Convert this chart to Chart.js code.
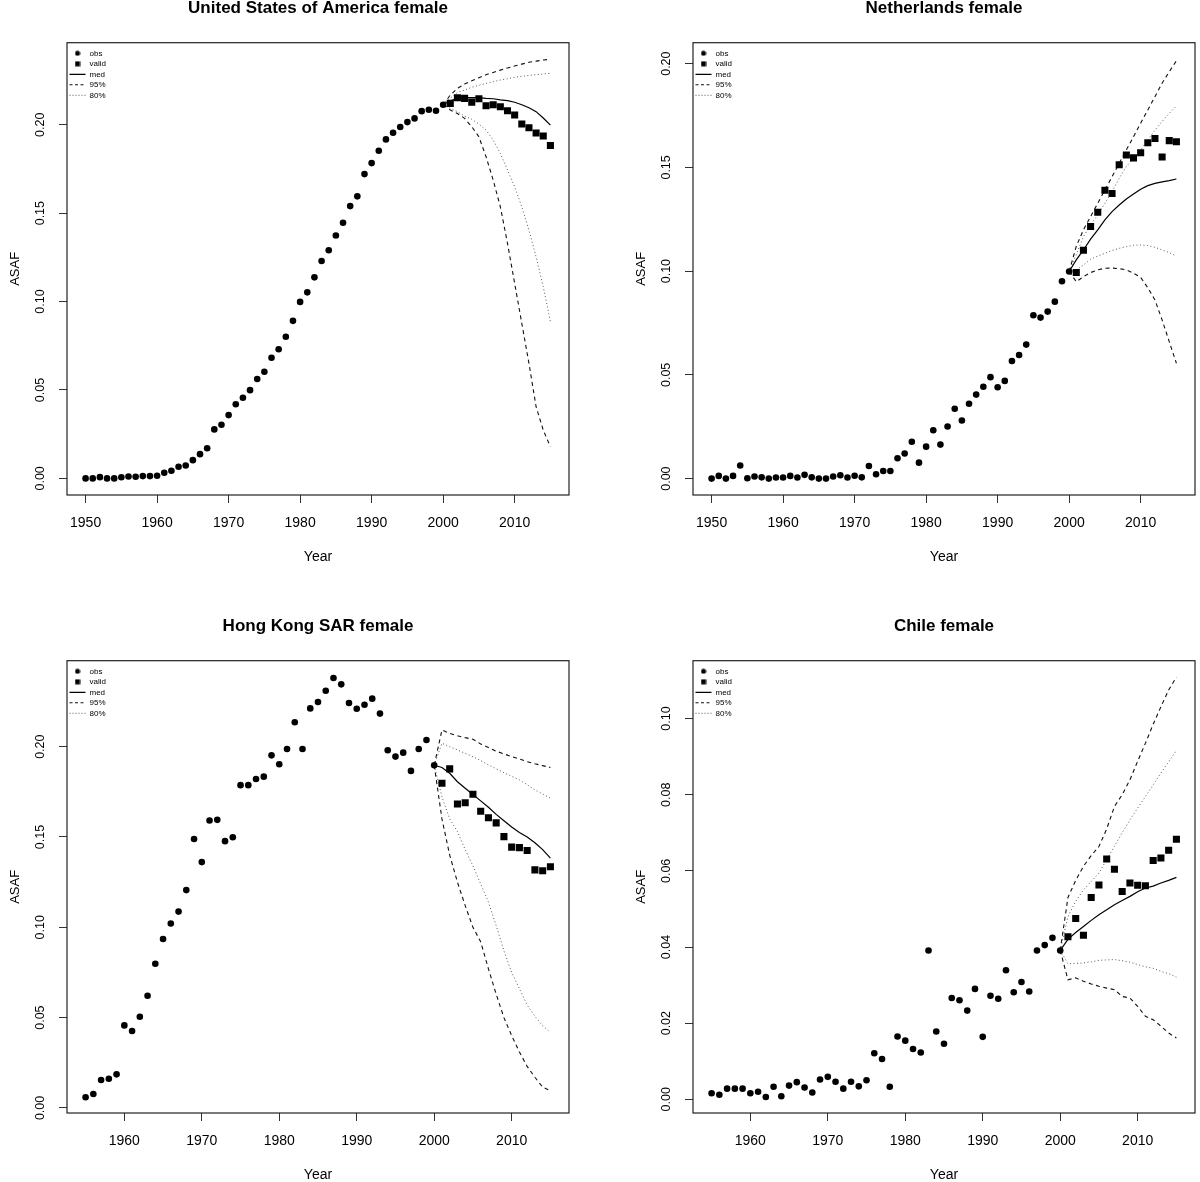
<!DOCTYPE html>
<html>
<head>
<meta charset="utf-8">
<title>ASAF female projections</title>
<script src="https://cdn.jsdelivr.net/npm/chart.js@4.4.1/dist/chart.umd.min.js"></script>
<style>
  html, body { margin: 0; padding: 0; background: #fff; }
  #page { position: relative; width: 1200px; height: 1182px; overflow: hidden; }
  canvas { position: absolute; }
</style>
</head>
<body>
<div id="page">
  <canvas id="usa" width="574" height="564" style="left:0px;top:0px"></canvas>
  <canvas id="nld" width="574" height="564" style="left:626px;top:0px"></canvas>
  <canvas id="hkg" width="574" height="564" style="left:0px;top:618px"></canvas>
  <canvas id="chl" width="574" height="564" style="left:626px;top:618px"></canvas>
</div>
<script>
// years: observed series start in 1950 (USA, NL) or 1955 (HK, Chile),
// validation runs 2001-2015, projection bands 2000-2015
const obsStartEarly = 1950;
const obsStartLate = 1955;
const validStart = 2001;
const projStart = 2000;

const legendLabels = ['obs', 'valid', 'med', '95%', '80%'];

// United States of America
const usaObs = [
  0.0000, 0.0000, 0.0007, 0.0000, 0.0000, 0.0006, 0.0011, 0.0009, 0.0013, 0.0013,
  0.0015, 0.0032, 0.0043, 0.0066, 0.0073, 0.0103, 0.0137, 0.0170, 0.0277, 0.0303,
  0.0358, 0.0419, 0.0456, 0.0499, 0.0562, 0.0603, 0.0682, 0.0730, 0.0801, 0.0891,
  0.0998, 0.1052, 0.1137, 0.1229, 0.1290, 0.1374, 0.1446, 0.1540, 0.1595, 0.1721,
  0.1783, 0.1853, 0.1917, 0.1955, 0.1987, 0.2015, 0.2036, 0.2077, 0.2085, 0.2079,
  0.2113
];
const usaValid = [0.2121, 0.2153, 0.2149, 0.2128, 0.2147, 0.2107, 0.2113, 0.2102, 0.2079, 0.2055, 0.2004, 0.1983, 0.1953, 0.1936, 0.1883];
const usaMed  = [0.2113, 0.2136, 0.2149, 0.2153, 0.2153, 0.2153, 0.2149, 0.2147, 0.2141, 0.2136, 0.2127, 0.2113, 0.2096, 0.2074, 0.2038, 0.1998];
const usaUp95 = [0.2113, 0.2168, 0.2206, 0.2230, 0.2249, 0.2266, 0.2283, 0.2296, 0.2309, 0.2321, 0.2332, 0.2343, 0.2353, 0.2360, 0.2366, 0.2370];
const usaUp80 = [0.2113, 0.2150, 0.2183, 0.2196, 0.2212, 0.2223, 0.2234, 0.2243, 0.2253, 0.2260, 0.2268, 0.2274, 0.2279, 0.2283, 0.2287, 0.2291];
const usaLo80 = [0.2113, 0.2093, 0.2074, 0.2049, 0.2031, 0.2004, 0.1970, 0.1913, 0.1838, 0.1744, 0.1649, 0.1536, 0.1404, 0.1253, 0.1084, 0.0886];
const usaLo95 = [0.2113, 0.2083, 0.2064, 0.2036, 0.1989, 0.1932, 0.1819, 0.1687, 0.1536, 0.1329, 0.1103, 0.0877, 0.0650, 0.0405, 0.0273, 0.0179];

// Netherlands
const nldObs = [
  0.0000, 0.0013, 0.0000, 0.0013, 0.0063, 0.0002, 0.0010, 0.0006, 0.0000, 0.0005,
  0.0005, 0.0013, 0.0005, 0.0018, 0.0006, 0.0000, 0.0000, 0.0010, 0.0016, 0.0005,
  0.0014, 0.0006, 0.0061, 0.0021, 0.0037, 0.0037, 0.0098, 0.0121, 0.0178, 0.0077,
  0.0154, 0.0233, 0.0164, 0.0251, 0.0337, 0.0280, 0.0361, 0.0405, 0.0443, 0.0489,
  0.0440, 0.0471, 0.0567, 0.0596, 0.0646, 0.0787, 0.0776, 0.0805, 0.0853, 0.0951,
  0.0998
];
const nldValid = [0.0993, 0.1101, 0.1215, 0.1284, 0.1390, 0.1374, 0.1513, 0.1560, 0.1546, 0.1571, 0.1619, 0.1639, 0.1550, 0.1629, 0.1624];
const nldMed  = [0.0998, 0.1054, 0.1102, 0.1154, 0.1199, 0.1247, 0.1287, 0.1319, 0.1348, 0.1372, 0.1395, 0.1412, 0.1423, 0.1430, 0.1436, 0.1444];
const nldUp95 = [0.0998, 0.1120, 0.1199, 0.1263, 0.1327, 0.1391, 0.1455, 0.1520, 0.1584, 0.1648, 0.1713, 0.1777, 0.1841, 0.1906, 0.1961, 0.2014];
const nldUp80 = [0.0998, 0.1080, 0.1166, 0.1223, 0.1271, 0.1327, 0.1383, 0.1448, 0.1504, 0.1544, 0.1584, 0.1632, 0.1680, 0.1721, 0.1761, 0.1796];
const nldLo80 = [0.0998, 0.1005, 0.1030, 0.1057, 0.1073, 0.1086, 0.1099, 0.1110, 0.1118, 0.1125, 0.1126, 0.1123, 0.1115, 0.1102, 0.1089, 0.1073];
const nldLo95 = [0.0998, 0.0949, 0.0973, 0.0993, 0.1006, 0.1014, 0.1015, 0.1012, 0.1006, 0.0990, 0.0970, 0.0920, 0.0861, 0.0765, 0.0660, 0.0556];

// Hong Kong SAR
const hkgObs = [
  0.0059, 0.0077, 0.0155, 0.0162, 0.0186,
  0.0457, 0.0426, 0.0505, 0.0621, 0.0798, 0.0935, 0.1021, 0.1087, 0.1206, 0.1489,
  0.1361, 0.1591, 0.1595, 0.1477, 0.1499, 0.1787, 0.1787, 0.1821, 0.1834, 0.1952,
  0.1903, 0.1987, 0.2135, 0.1987, 0.2212, 0.2247, 0.2310, 0.2380, 0.2345, 0.2242,
  0.2210, 0.2232, 0.2266, 0.2183, 0.1980, 0.1945, 0.1967, 0.1866, 0.1987, 0.2037,
  0.1897
];
const hkgValid = [0.1798, 0.1877, 0.1683, 0.1690, 0.1737, 0.1643, 0.1607, 0.1578, 0.1502, 0.1444, 0.1441, 0.1425, 0.1318, 0.1313, 0.1335];
const hkgMed  = [0.1897, 0.1885, 0.1853, 0.1806, 0.1770, 0.1735, 0.1700, 0.1665, 0.1625, 0.1590, 0.1555, 0.1525, 0.1500, 0.1468, 0.1430, 0.1383];
const hkgUp95 = [0.1897, 0.2092, 0.2074, 0.2060, 0.2050, 0.2041, 0.2015, 0.1995, 0.1975, 0.1960, 0.1945, 0.1932, 0.1917, 0.1905, 0.1895, 0.1885];
const hkgUp80 = [0.1897, 0.2019, 0.2000, 0.1982, 0.1963, 0.1945, 0.1922, 0.1899, 0.1878, 0.1856, 0.1836, 0.1816, 0.1790, 0.1761, 0.1738, 0.1715];
const hkgLo80 = [0.1897, 0.1723, 0.1600, 0.1530, 0.1430, 0.1340, 0.1240, 0.1140, 0.1010, 0.0870, 0.0750, 0.0660, 0.0570, 0.0507, 0.0455, 0.0418];
const hkgLo95 = [0.1897, 0.1600, 0.1400, 0.1250, 0.1120, 0.1000, 0.0920, 0.0770, 0.0630, 0.0500, 0.0400, 0.0310, 0.0230, 0.0170, 0.0115, 0.0095];

// Chile
const chlObs = [
  0.0016, 0.0012, 0.0028, 0.0028, 0.0028,
  0.0016, 0.0020, 0.0006, 0.0033, 0.0008, 0.0036, 0.0045, 0.0031, 0.0018, 0.0052,
  0.0059, 0.0046, 0.0028, 0.0046, 0.0034, 0.0050, 0.0121, 0.0106, 0.0033, 0.0165,
  0.0154, 0.0132, 0.0123, 0.0391, 0.0178, 0.0146, 0.0266, 0.0260, 0.0233, 0.0290,
  0.0164, 0.0272, 0.0264, 0.0339, 0.0281, 0.0308, 0.0283, 0.0391, 0.0405, 0.0424,
  0.0391
];
const chlValid = [0.0427, 0.0475, 0.0431, 0.0530, 0.0563, 0.0631, 0.0604, 0.0546, 0.0568, 0.0562, 0.0561, 0.0627, 0.0634, 0.0654, 0.0683];
const chlMed  = [0.0391, 0.0420, 0.0438, 0.0454, 0.0470, 0.0485, 0.0498, 0.0511, 0.0522, 0.0533, 0.0545, 0.0555, 0.0560, 0.0568, 0.0575, 0.0583];
const chlUp95 = [0.0391, 0.0530, 0.0575, 0.0612, 0.0640, 0.0664, 0.0710, 0.0769, 0.0800, 0.0839, 0.0888, 0.0935, 0.0985, 0.1031, 0.1075, 0.1109];
const chlUp80 = [0.0391, 0.0480, 0.0520, 0.0550, 0.0572, 0.0594, 0.0630, 0.0664, 0.0700, 0.0734, 0.0765, 0.0795, 0.0826, 0.0857, 0.0887, 0.0916];
const chlLo80 = [0.0391, 0.0356, 0.0357, 0.0358, 0.0361, 0.0365, 0.0366, 0.0367, 0.0364, 0.0360, 0.0354, 0.0348, 0.0344, 0.0336, 0.0330, 0.0321];
const chlLo95 = [0.0391, 0.0314, 0.0319, 0.0310, 0.0303, 0.0297, 0.0292, 0.0288, 0.0270, 0.0266, 0.0244, 0.0218, 0.0209, 0.0192, 0.0174, 0.0161];

// tick labels
const yearTicksEarly = [1950, 1960, 1970, 1980, 1990, 2000, 2010];
const yearTicksLate = [1960, 1970, 1980, 1990, 2000, 2010];
const asafTicks = [0.00, 0.05, 0.10, 0.15, 0.20];
const chileTicks = [0.00, 0.02, 0.04, 0.06, 0.08, 0.10];

Chart.defaults.font.family = '"Liberation Sans", Arial, Helvetica, sans-serif';
Chart.defaults.color = '#000';

const toPoints = (start, vals) => vals.map((v, i) => ({ x: start + i, y: v }));

// small legend symbols
function legendIcon(kind) {
    const c = document.createElement('canvas');
    c.width = 6;
    c.height = 6;
    const g = c.getContext('2d');
    g.fillStyle = '#000';
    if (kind === 'circle') {
        g.beginPath();
        g.arc(3, 3, 2.5, 0, Math.PI * 2);
        g.fill();
    } else {
        g.fillRect(0.5, 0.5, 5, 5);
    }
    return c;
}
const obsIcon = legendIcon('circle');
const validIcon = legendIcon('square');

const solid = [];
const dashed = [4, 3.5];
const dotted = [1, 2.5];

// box round the plot area, like R's bty="o"
const framePlugin = {
    id: 'frame',
    beforeDatasetsDraw(chart) {
        const { ctx, chartArea: a } = chart;
        ctx.save();
        ctx.strokeStyle = '#222';
        ctx.lineWidth = 1.2;
        ctx.strokeRect(a.left, a.top, a.right - a.left, a.bottom - a.top);
        ctx.restore();
    }
};

function makePanel(id, p) {
    const lineSet = (label, vals, dash, color, width) => ({
        label: label,
        data: toPoints(projStart, vals),
        showLine: true,
        borderColor: color,
        borderWidth: width,
        borderDash: dash,
        pointRadius: 0,
        tension: 0,
        fill: false
    });

    const datasets = [
        {
            label: legendLabels[0],
            data: toPoints(p.obsStart, p.obs),
            pointStyle: 'circle',
            pointRadius: 3.3,
            backgroundColor: '#000',
            borderWidth: 0
        },
        {
            label: legendLabels[1],
            data: toPoints(validStart, p.valid),
            pointStyle: 'rect',
            pointRadius: 5,
            backgroundColor: '#000',
            borderWidth: 0
        },
        lineSet(legendLabels[2], p.med, solid, '#000', 1.2),
        lineSet(legendLabels[3], p.up95, dashed, '#111', 1.1),
        lineSet('lower 95%', p.lo95, dashed, '#111', 1.1),
        lineSet(legendLabels[4], p.up80, dotted, '#555', 1),
        lineSet('lower 80%', p.lo80, dotted, '#555', 1)
    ];

    return new Chart(document.getElementById(id), {
        type: 'scatter',
        data: { datasets: datasets },
        plugins: [framePlugin],
        options: {
            responsive: false,
            animation: false,
            devicePixelRatio: 1,
            layout: { padding: { left: 0, right: 1, top: 0, bottom: 0 } },
            scales: {
                x: {
                    type: 'linear',
                    min: p.xMin,
                    max: p.xMax,
                    afterBuildTicks: axis => { axis.ticks = p.xTicks.map(v => ({ value: v })); },
                    afterFit: axis => { axis.height = 69; },
                    border: { display: false },
                    grid: { drawOnChartArea: false, drawTicks: true, tickLength: 8, tickColor: '#333', tickWidth: 1 },
                    ticks: {
                        font: { size: 14 },
                        padding: 11.4,
                        maxRotation: 0,
                        autoSkip: false,
                        callback: v => String(v)
                    },
                    title: { display: true, text: 'Year', font: { size: 14, lineHeight: 1 }, padding: 0 }
                },
                y: {
                    type: 'linear',
                    min: p.yMin,
                    max: p.yMax,
                    afterBuildTicks: axis => { axis.ticks = p.yTicks.map(v => ({ value: v })); },
                    afterFit: axis => { axis.width = 67; },
                    border: { display: false },
                    grid: { drawOnChartArea: false, drawTicks: true, tickLength: 8, tickColor: '#333', tickWidth: 1 },
                    ticks: {
                        font: { size: 12.5 },
                        minRotation: 90,
                        maxRotation: 90,
                        crossAlign: 'center',
                        padding: 6,
                        autoSkip: false,
                        callback: v => Number(v).toFixed(2)
                    },
                    title: { display: true, text: 'ASAF', font: { size: 13, lineHeight: 1 }, padding: { top: 8.5, bottom: 0 } }
                }
            },
            plugins: {
                title: {
                    display: true,
                    text: p.title,
                    fullSize: false,
                    color: '#000',
                    font: { size: 17, weight: 'bold', lineHeight: 1 },
                    padding: { top: 0, bottom: 25.7 }
                },
                legend: {
                    position: 'chartArea',
                    align: 'start',
                    // the chartArea legend is measured from the canvas top, so push it below the title
                    title: { display: true, text: ' ', font: { size: 1 }, padding: { top: 45.6, bottom: 0 } },
                    labels: {
                        font: { size: 8 },
                        color: '#000',
                        padding: 2.5,
                        usePointStyle: true,
                        pointStyleWidth: 16,
                        generateLabels: () => [
                            { text: legendLabels[0], pointStyle: obsIcon, fillStyle: '#000', strokeStyle: '#000', lineWidth: 0, fontColor: '#000' },
                            { text: legendLabels[1], pointStyle: validIcon, fillStyle: '#000', strokeStyle: '#000', lineWidth: 0, fontColor: '#000' },
                            { text: legendLabels[2], pointStyle: 'line', strokeStyle: '#000', lineWidth: 1.2, lineDash: solid, fontColor: '#000' },
                            { text: legendLabels[3], pointStyle: 'line', strokeStyle: '#111', lineWidth: 1.1, lineDash: [3, 2.5], fontColor: '#000' },
                            { text: legendLabels[4], pointStyle: 'line', strokeStyle: '#555', lineWidth: 1, lineDash: [1, 2], fontColor: '#000' }
                        ]
                    }
                },
                tooltip: { enabled: false }
            }
        }
    });
}

makePanel('usa', {
    title: 'United States of America female',
    obsStart: obsStartEarly, obs: usaObs, valid: usaValid,
    med: usaMed, up95: usaUp95, lo95: usaLo95, up80: usaUp80, lo80: usaLo80,
    xMin: 1947.4, xMax: 2017.6, xTicks: yearTicksEarly,
    yMin: -0.0094, yMax: 0.2464, yTicks: asafTicks
});

makePanel('nld', {
    title: 'Netherlands female',
    obsStart: obsStartEarly, obs: nldObs, valid: nldValid,
    med: nldMed, up95: nldUp95, lo95: nldLo95, up80: nldUp80, lo80: nldLo80,
    xMin: 1947.4, xMax: 2017.6, xTicks: yearTicksEarly,
    yMin: -0.0079, yMax: 0.2101, yTicks: asafTicks
});

makePanel('hkg', {
    title: 'Hong Kong SAR female',
    obsStart: obsStartLate, obs: hkgObs, valid: hkgValid,
    med: hkgMed, up95: hkgUp95, lo95: hkgLo95, up80: hkgUp80, lo80: hkgLo80,
    xMin: 1952.6, xMax: 2017.4, xTicks: yearTicksLate,
    yMin: -0.0028, yMax: 0.2476, yTicks: asafTicks
});

makePanel('chl', {
    title: 'Chile female',
    obsStart: obsStartLate, obs: chlObs, valid: chlValid,
    med: chlMed, up95: chlUp95, lo95: chlLo95, up80: chlUp80, lo80: chlLo80,
    xMin: 1952.6, xMax: 2017.4, xTicks: yearTicksLate,
    yMin: -0.0036, yMax: 0.1152, yTicks: chileTicks
});
</script>
</body>
</html>
